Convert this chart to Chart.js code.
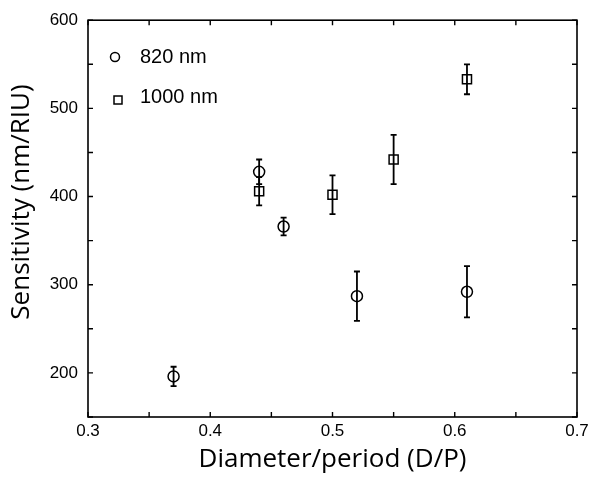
<!DOCTYPE html>
<html>
<head>
<meta charset="utf-8">
<script src="https://cdn.jsdelivr.net/npm/chart.js@4"></script>
<style>
  html, body { margin: 0; padding: 0; background: #fff; }
  #wrap { width: 601px; height: 477px; }
</style>
</head>
<body>
<div id="wrap"><canvas id="c" width="601" height="477"></canvas></div>
<script>
// ---- data ----
const seriesNames = ['820 nm', '1000 nm'];
const x820 = [0.37, 0.44, 0.46, 0.52, 0.61];
const y820 = [196, 428, 366, 287, 292];
const err820 = [11, 14, 10, 28, 29];
const x1000 = [0.44, 0.50, 0.55, 0.61];
const y1000 = [406, 402, 442, 533];
const err1000 = [16, 22, 28, 17];
const xTickLabels = ['0.3', '0.4', '0.5', '0.6', '0.7'];
const yTickLabels = ['200', '300', '400', '500', '600'];
const xTitle = 'Diameter/period (D/P)';
const yTitle = 'Sensitivity (nm/RIU)';

const toPoints = (xs, ys, es) => xs.map((x, i) => ({ x: x, y: ys[i], err: es[i] }));

// error bars drawn through the library's scales
const errorBars = {
  id: 'errorBars',
  beforeDatasetsDraw(chart) {
    const ctx = chart.ctx, xs = chart.scales.x, ys = chart.scales.y;
    ctx.save();
    ctx.strokeStyle = '#000';
    ctx.lineWidth = 1.8;
    chart.data.datasets.forEach(ds => {
      ds.data.forEach(p => {
        const px = xs.getPixelForValue(p.x);
        const top = ys.getPixelForValue(p.y + p.err);
        const bot = ys.getPixelForValue(p.y - p.err);
        ctx.beginPath();
        ctx.moveTo(px, top); ctx.lineTo(px, bot);
        ctx.moveTo(px - 3, top); ctx.lineTo(px + 3, top);
        ctx.moveTo(px - 3, bot); ctx.lineTo(px + 3, bot);
        ctx.stroke();
      });
    });
    ctx.restore();
  }
};

// frame with inward ticks, legend and y title
const frame = {
  id: 'frame',
  afterDraw(chart) {
    const ctx = chart.ctx, a = chart.chartArea, xs = chart.scales.x, ys = chart.scales.y;
    ctx.save();
    ctx.strokeStyle = '#000';
    ctx.lineWidth = 1.6;
    ctx.strokeRect(a.left, a.top, a.right - a.left, a.bottom - a.top);
    ctx.lineWidth = 1.4;
    ctx.beginPath();
    xs.ticks.forEach(t => {
      const px = xs.getPixelForValue(t.value);
      ctx.moveTo(px, a.bottom); ctx.lineTo(px, a.bottom - 5);
      ctx.moveTo(px, a.top); ctx.lineTo(px, a.top + 5);
    });
    ys.ticks.forEach(t => {
      const py = ys.getPixelForValue(t.value);
      ctx.moveTo(a.left, py); ctx.lineTo(a.left + 5, py);
      ctx.moveTo(a.right, py); ctx.lineTo(a.right - 5, py);
    });
    ctx.stroke();

    // legend inside the plot
    ctx.lineWidth = 1.5;
    ctx.beginPath();
    ctx.arc(115, 57, 4.5, 0, Math.PI * 2);
    ctx.stroke();
    ctx.strokeRect(114, 96, 8, 8);
    ctx.fillStyle = '#000';
    ctx.font = '20px "Liberation Sans", Arial, sans-serif';
    ctx.textBaseline = 'middle';
    ctx.textAlign = 'left';
    ctx.fillText(seriesNames[0], 140, 57);
    ctx.fillText(seriesNames[1], 140, 97);

    // y axis title
    ctx.translate(22, 202);
    ctx.rotate(-Math.PI / 2);
    ctx.font = '26px "Open Sans", sans-serif';
    ctx.textAlign = 'center';
    ctx.fillText(yTitle, 0, 0);
    ctx.restore();
  }
};

const tickFont = { family: '"Liberation Sans", Arial, sans-serif', size: 17 };
const titleFont = { family: '"Open Sans", sans-serif', size: 26 };

new Chart(document.getElementById('c'), {
  type: 'scatter',
  data: {
    datasets: [
      {
        label: seriesNames[0],
        data: toPoints(x820, y820, err820),
        pointStyle: 'circle',
        pointRadius: 5.5,
        pointHoverRadius: 5.5,
        borderColor: '#000',
        backgroundColor: 'rgba(0,0,0,0)',
        borderWidth: 1.5
      },
      {
        label: seriesNames[1],
        data: toPoints(x1000, y1000, err1000),
        pointStyle: 'rect',
        pointRadius: 6.4,
        pointHoverRadius: 6.4,
        borderColor: '#000',
        backgroundColor: 'rgba(0,0,0,0)',
        borderWidth: 1.5
      }
    ]
  },
  options: {
    responsive: false,
    animation: false,
    devicePixelRatio: 1,
    layout: { padding: { left: 0, right: 24, top: 20, bottom: 0 } },
    plugins: { legend: { display: false }, tooltip: { enabled: false } },
    scales: {
      x: {
        type: 'linear',
        min: 0.3, max: 0.7,
        afterFit(s) { s.height = 60; },
        grid: { display: false, drawTicks: false },
        border: { display: false },
        ticks: {
          stepSize: 0.05,
          color: '#000',
          font: tickFont,
          padding: 4,
          maxRotation: 0,
          autoSkip: false,
          callback(v) {
            const k = Math.round(v * 100);
            if (k % 10 !== 0) return '';
            const lbl = (k / 100).toFixed(1);
            return xTickLabels.includes(lbl) ? lbl : '';
          }
        },
        title: { display: true, text: xTitle, color: '#000', font: titleFont, padding: { top: 0, bottom: 2 } }
      },
      y: {
        type: 'linear',
        min: 150, max: 600,
        afterFit(s) { s.width = 88; },
        grid: { display: false, drawTicks: false },
        border: { display: false },
        ticks: {
          stepSize: 50,
          color: '#000',
          font: tickFont,
          padding: 10,
          autoSkip: false,
          callback(v) {
            const lbl = String(Math.round(v));
            return yTickLabels.includes(lbl) ? lbl : '';
          }
        },
        title: { display: false, text: yTitle }
      }
    }
  },
  plugins: [errorBars, frame]
});
</script>
</body>
</html>
